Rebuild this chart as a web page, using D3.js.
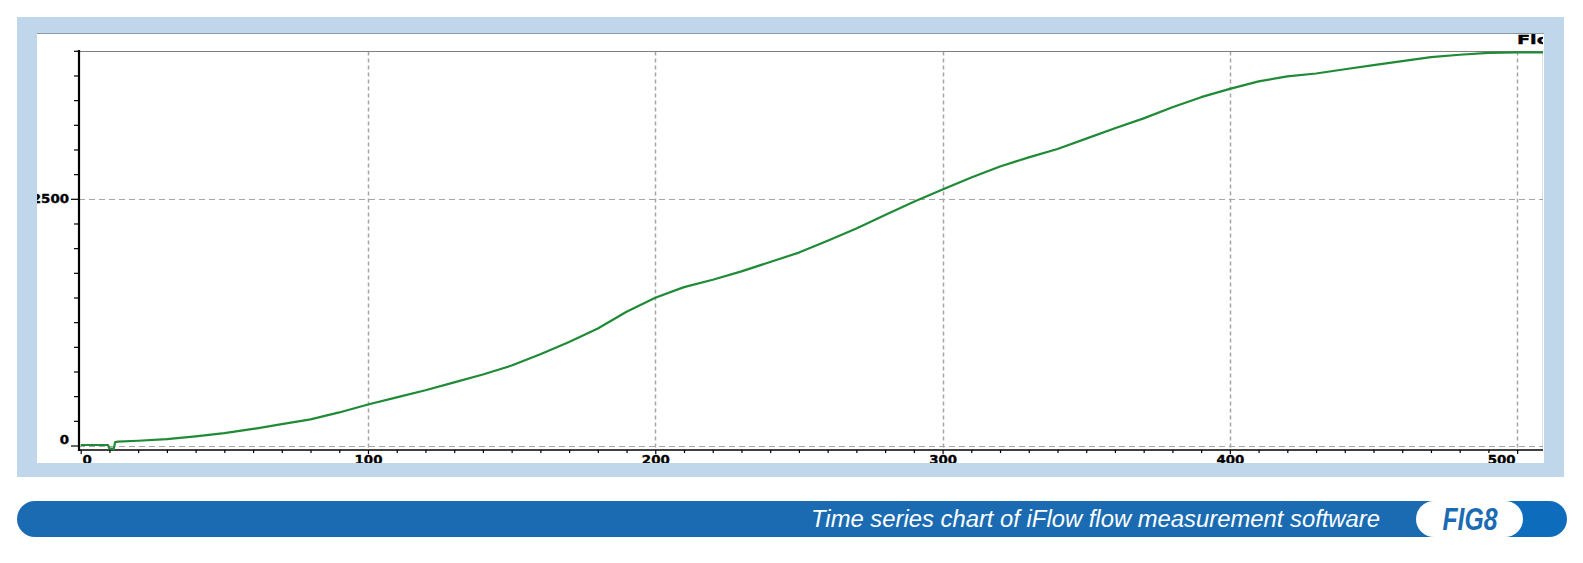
<!DOCTYPE html>
<html>
<head>
<meta charset="utf-8">
<script src="https://cdn.jsdelivr.net/npm/d3@7/dist/d3.min.js"></script>
<style>
  html, body { margin: 0; padding: 0; background: #ffffff; }
  svg { display: block; }
</style>
</head>
<body>
<svg id="chart" width="1583" height="563"></svg>
<script>
// ---- data ----
const time = [0, 9.5, 10, 11.5, 12, 13, 20, 30, 40, 50, 60, 70, 80, 90, 100, 110, 120, 130, 140, 150,
  160, 170, 180, 190, 200, 210, 220, 230, 240, 250, 260, 270, 280, 290, 300, 310, 320, 330, 340, 350,
  360, 370, 380, 390, 400, 410, 420, 430, 440, 450, 460, 470, 480, 490, 500, 509];
const flow = [5, 5, -30, -35, 35, 40, 48, 64, 92, 125, 168, 216, 265, 335, 415, 488, 560, 640, 720, 810,
  925, 1050, 1185, 1355, 1497, 1605, 1680, 1765, 1860, 1955, 2075, 2200, 2335, 2470, 2595, 2715, 2828, 2920, 3005, 3110,
  3215, 3315, 3428, 3530, 3614, 3690, 3740, 3770, 3813, 3855, 3895, 3935, 3960, 3978, 3985, 3985];
const xLabelTicks = [0, 100, 200, 300, 400, 500];
const yLabelTicks = [0, 2500];
const seriesName = "Flow";
const caption = "Time series chart of iFlow flow measurement software";
const figLabel = "FIG8";

const svg = d3.select("#chart");

// ---- frame ----
svg.append("rect").attr("x", 17).attr("y", 17).attr("width", 1547).attr("height", 460).attr("fill", "#c0d7eb");
svg.append("rect").attr("x", 37).attr("y", 33).attr("width", 1507).attr("height", 430).attr("fill", "#ffffff");
svg.append("line").attr("x1", 37).attr("x2", 1544).attr("y1", 33.5).attr("y2", 33.5).attr("stroke", "#8d98a5").attr("stroke-width", 1);

svg.append("defs").append("clipPath").attr("id", "inner")
  .append("rect").attr("x", 37).attr("y", 34).attr("width", 1506).attr("height", 429);
svg.select("defs").append("clipPath").attr("id", "plot")
  .append("rect").attr("x", 80).attr("y", 50).attr("width", 1463).attr("height", 400);

const root = svg.append("g").attr("clip-path", "url(#inner)");

// ---- scales ----
const x = d3.scaleLinear().domain([0, 509]).range([80.7, 1543]);
const y = d3.scaleLinear().domain([0, 4000]).range([445.5, 50.8]);

const plotLeft = 79, plotRight = 1543.5, plotTop = 51.5, plotBottom = 450;

// ---- grid ----
const grid = root.append("g");
grid.selectAll("line.vg").data(xLabelTicks.filter(d => d > 0)).join("line")
  .attr("class", "vg")
  .attr("x1", d => Math.round(x(d)) + 0.5).attr("x2", d => Math.round(x(d)) + 0.5)
  .attr("y1", plotTop).attr("y2", plotBottom)
  .attr("stroke", "#a6a6a6").attr("stroke-width", 1.5).attr("stroke-dasharray", "4,3");
grid.selectAll("line.hg").data(yLabelTicks).join("line")
  .attr("class", "hg")
  .attr("x1", plotLeft).attr("x2", plotRight)
  .attr("y1", d => Math.round(y(d)) + 0.5).attr("y2", d => Math.round(y(d)) + 0.5)
  .attr("stroke", "#a6a6a6").attr("stroke-width", 1).attr("stroke-dasharray", "6,4");

// plot top / right borders
root.append("line").attr("x1", plotLeft).attr("x2", plotRight).attr("y1", plotTop).attr("y2", plotTop)
  .attr("stroke", "#7f7f7f").attr("stroke-width", 1.2);
root.append("line").attr("x1", plotRight).attr("x2", plotRight).attr("y1", plotTop).attr("y2", plotBottom)
  .attr("stroke", "#7f7f7f").attr("stroke-width", 1.5);

// ---- axes ----
const labelFont = "DejaVu Sans, Verdana, sans-serif";
const digitW = 9.3;

const xAxis = d3.axisBottom(x)
  .tickValues(d3.range(0, 510, 10))
  .tickSize(3)
  .tickFormat(d => (d % 100 === 0 ? String(d) : ""));
const gx = root.append("g").attr("transform", `translate(0,${plotBottom})`).call(xAxis);
gx.select(".domain").remove();
gx.selectAll(".tick line").attr("stroke", "#000").attr("stroke-width", 1.2);
gx.selectAll(".tick text")
  .attr("fill", "#000").attr("stroke", "#000").attr("stroke-width", 0.35)
  .attr("font-family", labelFont).attr("font-weight", "bold").attr("font-size", 12)
  .attr("dy", null).attr("y", 13.5)
  .attr("textLength", d => d % 100 === 0 ? String(d).length * digitW : null)
  .attr("lengthAdjust", "spacingAndGlyphs")
  .attr("transform", d => d === 0 ? "translate(6,0)" : d === 500 ? "translate(-16,0)" : null);
gx.selectAll(".tick").filter(d => d % 100 === 0).select("line").attr("y2", 4);
root.append("line").attr("x1", plotLeft).attr("x2", 1545).attr("y1", plotBottom).attr("y2", plotBottom)
  .attr("stroke", "#000").attr("stroke-width", 1.6);

const yAxis = d3.axisLeft(y)
  .tickValues(d3.range(0, 4001, 250))
  .tickSize(5)
  .tickFormat(d => (yLabelTicks.includes(d) ? String(d) : ""));
const gy = root.append("g").attr("transform", `translate(${plotLeft},0)`).call(yAxis);
gy.select(".domain").remove();
gy.selectAll(".tick line").attr("stroke", "#000").attr("stroke-width", 1.2);
gy.selectAll(".tick").filter(d => yLabelTicks.includes(d)).select("line").attr("x2", -8);
gy.selectAll(".tick text")
  .attr("fill", "#000").attr("stroke", "#000").attr("stroke-width", 0.35)
  .attr("font-family", labelFont).attr("font-weight", "bold").attr("font-size", 12)
  .attr("x", -10).attr("dy", "0.34em")
  .attr("textLength", d => yLabelTicks.includes(d) ? String(d).length * digitW : null)
  .attr("lengthAdjust", "spacingAndGlyphs")
  .attr("transform", d => d === 0 ? "translate(0,-6)" : null);
root.append("line").attr("x1", plotLeft).attr("x2", plotLeft).attr("y1", 50).attr("y2", plotBottom + 1)
  .attr("stroke", "#000").attr("stroke-width", 2.2);

// series name (clipped at the panel edge)
root.append("text").attr("x", 1517).attr("y", 44)
  .attr("font-family", labelFont).attr("font-weight", "bold").attr("font-size", 12)
  .attr("fill", "#000").attr("stroke", "#000").attr("stroke-width", 0.35)
  .attr("transform", "translate(1517,0) scale(1.6,1) translate(-1517,0)")
  .text(seriesName);

// ---- line ----
const pts = time.map((t, i) => [t, flow[i]]);
const line = d3.line().x(d => x(d[0])).y(d => y(d[1]));
root.append("path").datum(pts)
  .attr("clip-path", "url(#plot)")
  .attr("d", line)
  .attr("fill", "none").attr("stroke", "#1f8b36").attr("stroke-width", 2.2)
  .attr("stroke-linejoin", "round");

// ---- caption banner ----
const bannerTop = 501, bannerH = 36;
svg.append("rect").attr("x", 1480).attr("y", bannerTop).attr("width", 87).attr("height", bannerH)
  .attr("rx", 18).attr("fill", "#0d6cbb");
svg.append("path")
  .attr("d", `M${17 + 18},${bannerTop} H1470 V${bannerTop + bannerH} H${17 + 18} A18,18 0 0 1 ${17 + 18},${bannerTop} Z`)
  .attr("fill", "#1b6bb3");
svg.append("rect").attr("x", 1416).attr("y", bannerTop).attr("width", 107).attr("height", bannerH)
  .attr("rx", 18).attr("fill", "#ffffff");
svg.append("text").attr("x", 1380).attr("y", 527)
  .attr("text-anchor", "end")
  .attr("font-family", "Liberation Sans, Arial, sans-serif").attr("font-style", "italic")
  .attr("font-size", 23).attr("fill", "#ffffff")
  .attr("textLength", 569).attr("lengthAdjust", "spacingAndGlyphs")
  .text(caption);
svg.append("text").attr("x", 1470).attr("y", 530)
  .attr("text-anchor", "middle")
  .attr("font-family", "Liberation Sans, Arial, sans-serif").attr("font-style", "italic").attr("font-weight", "bold")
  .attr("font-size", 31).attr("fill", "#1b6bb3")
  .attr("textLength", 55).attr("lengthAdjust", "spacingAndGlyphs")
  .text(figLabel);
</script>
</body>
</html>
